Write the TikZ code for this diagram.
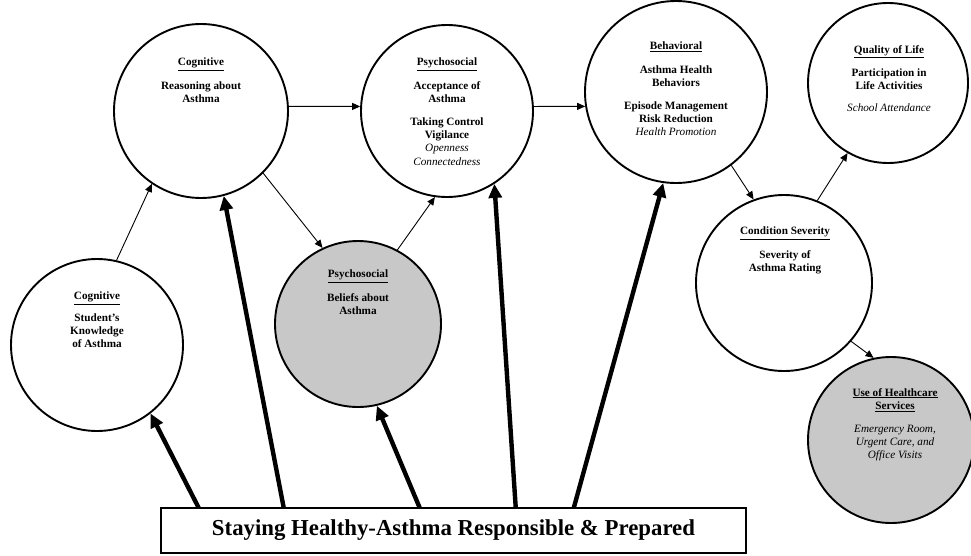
\documentclass[tikz,border=0pt]{standalone}
\usepackage{fontspec}
\setmainfont{Liberation Serif}
\usetikzlibrary{arrows.meta,calc}
\definecolor{circgray}{RGB}{200,200,200}
\begin{document}
\begin{tikzpicture}[x=1pt,y=-1pt,
  circ/.style={circle,draw,line width=1.9pt,minimum size=#1,inner sep=0pt},
  gcirc/.style={circ=#1,fill=circgray},
  txt/.style={align=center,anchor=north,inner sep=0pt,font=\fontsize{11.2}{13.2}\selectfont\bfseries},
  thin/.style={line width=0.9pt,-{Triangle[length=8pt,width=7pt]}},
  thick/.style={line width=4.4pt,-{Triangle[length=14pt,width=13pt]}}]
\useasboundingbox (0,0) rectangle (971,555);
% circles
\node[circ=172pt]  (know) at (97,345) {};
\node[circ=174pt]  (reas) at (201,111) {};
\node[gcirc=166pt] (beli) at (358,324) {};
\node[circ=172pt]  (acce) at (447,111) {};
\node[circ=182pt]  (beha) at (676,92) {};
\node[circ=160pt]  (qual) at (888,83) {};
\node[circ=176pt]  (cond) at (784,283) {};
\node[gcirc=166pt] (heal) at (891,440) {};
% texts
\node[txt] (tknow) at (97,292) {\underline{Cognitive}\\[8pt]Student’s\\Knowledge\\of Asthma};
\node[txt] (treas) at (201,58) {\underline{Cognitive}\\[10pt]Reasoning about\\Asthma};
\node[txt] (tbeli) at (358,270) {\underline{Psychosocial}\\[10pt]Beliefs about\\Asthma};
\node[txt] (tacce) at (447,58) {\underline{Psychosocial}\\[10pt]Acceptance of\\Asthma\\[10pt]Taking Control\\Vigilance\\{\normalfont\itshape Openness}\\{\normalfont\itshape Connectedness}};
\node[txt] (tbeha) at (676,42) {\underline{Behavioral}\\[10pt]Asthma Health\\Behaviors\\[10pt]Episode Management\\Risk Reduction\\{\normalfont\itshape Health Promotion}};
\node[txt] (tqual) at (889,45) {\underline{Quality of Life}\\[10pt]Participation in\\Life Activities\\[9pt]{\normalfont\itshape School Attendance}};
\node[txt] (tcond) at (785,227) {\underline{Condition Severity}\\[10pt]Severity of\\Asthma Rating};
\node[txt] (theal) at (895,388) {\underline{Use of Healthcare}\\\underline{Services}\\[10pt]{\normalfont\itshape Emergency Room,}\\{\normalfont\itshape Urgent Care, and}\\{\normalfont\itshape Office Visits}};
% thin arrows
\draw[thin] (know.77) -- (reas.236);
\draw[thin] (reas.3) -- (acce.177);
\draw[thin] (reas.-45) -- (beli.115);
\draw[thin] (beli.62) -- (acce.-98);
\draw[thin] (acce.3) -- (beha.189);
\draw[thin] (beha.-53) -- (cond.110);
\draw[thin] (cond.68) -- (qual.-120);
\draw[thin] (cond.-41) -- (heal.102);
% bottom box
\node[draw,line width=2.5pt,fill=white,minimum width=585pt,minimum height=45pt,inner sep=0pt,
      font=\fontsize{22.8}{26}\selectfont\bfseries] (box) at (453.5,530.5) {Staying Healthy-Asthma Responsible \& Prepared};
% thick arrows
\draw[thick] ([xshift=39pt,yshift=-1.2pt]box.north west) -- (know.-52);
\draw[thick] ([xshift=124pt,yshift=-1.2pt]box.north west) -- (reas.-75);
\draw[thick] ([xshift=260pt,yshift=-1.2pt]box.north west) -- (beli.-77);
\draw[thick] ([xshift=356pt,yshift=-1.2pt]box.north west) -- (acce.-57);
\draw[thick] ([xshift=414pt,yshift=-1.2pt]box.north west) -- (beha.-98);
\end{tikzpicture}
\end{document}
